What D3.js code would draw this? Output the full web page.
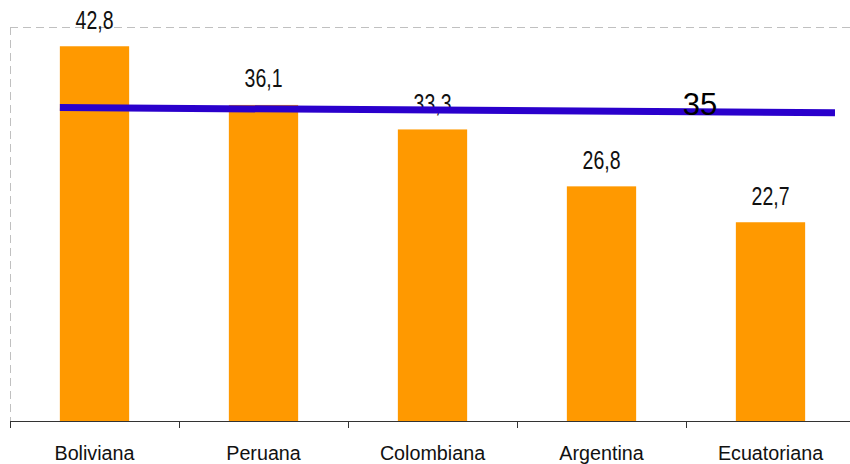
<!DOCTYPE html>
<html><head><meta charset="utf-8">
<script src="https://cdn.jsdelivr.net/npm/d3@7"></script>
<style>body{margin:0;background:#fff}svg{display:block;font-family:"Liberation Sans",Arial,sans-serif}</style>
</head><body><svg id="c" width="850" height="464"></svg>
<script>
const categories = ["Boliviana","Peruana","Colombiana","Argentina","Ecuatoriana"];
const values = [42.8, 36.1, 33.3, 26.8, 22.7];
const valueLabels = ["42,8","36,1","33,3","26,8","22,7"];
const refLineValues = [35.8, 35.2];
const refLabel = "35";
const yMax = 45;

const svg = d3.select("#c");
const x = d3.scaleBand().domain(categories).range([10, 855]).paddingInner(0.59).paddingOuter(0.295);
const xb = d3.scaleBand().domain(categories).range([10, 855]);
const y = d3.scaleLinear().domain([0, yMax]).range([421, 27]);

// dashed frame
svg.append("line").attr("x1",10).attr("x2",850).attr("y1",y(yMax)+0.5).attr("y2",y(yMax)+0.5)
  .attr("stroke","#c0c0c0").attr("stroke-dasharray","8,5");
svg.append("line").attr("x1",10.5).attr("x2",10.5).attr("y1",y(yMax)).attr("y2",y(0))
  .attr("stroke","#c0c0c0").attr("stroke-dasharray","8,5");

// bars
svg.selectAll("rect.bar").data(values).join("rect").attr("class","bar")
  .attr("x",(d,i)=>x(categories[i])).attr("width",x.bandwidth())
  .attr("y",d=>y(d)).attr("height",d=>y(0)-y(d)).attr("fill","#ff9900");

// x axis
const ax = svg.append("g").attr("transform",`translate(0,${y(0)})`);
ax.append("line").attr("x1",10).attr("x2",850).attr("y1",0.5).attr("y2",0.5).attr("stroke","#333");
const bounds = categories.map(c=>xb(c)).concat([xb(categories[categories.length-1])+xb.bandwidth()]);
ax.selectAll("line.tick").data(bounds).join("line").attr("class","tick")
  .attr("x1",d=>Math.round(d)+0.5).attr("x2",d=>Math.round(d)+0.5).attr("y1",0).attr("y2",7).attr("stroke","#333");
ax.selectAll("text").data(categories).join("text")
  .attr("transform",d=>`translate(${xb(d)+xb.bandwidth()/2},39) scale(0.94,1)`)
  .attr("text-anchor","middle")
  .attr("font-size",21).attr("fill","#111").text(d=>d);

// value labels
svg.selectAll("text.val").data(values).join("text").attr("class","val")
  .attr("transform",(d,i)=>`translate(${x(categories[i])+x.bandwidth()/2},${y(d)-17.5}) scale(0.78,1)`)
  .attr("text-anchor","middle").attr("font-size",25).attr("fill","#111")
  .text((d,i)=>valueLabels[i]);

// reference line
const lx0 = x(categories[0]);
const lx1 = 835;
svg.append("line").attr("x1",lx0).attr("x2",lx1)
  .attr("y1",y(refLineValues[0])).attr("y2",y(refLineValues[1]))
  .attr("stroke","#2a00cc").attr("stroke-width",7);
svg.append("text").attr("x",700).attr("y",115).attr("text-anchor","middle")
  .attr("font-size",31).attr("fill","#000").text(refLabel);
</script></body></html>
